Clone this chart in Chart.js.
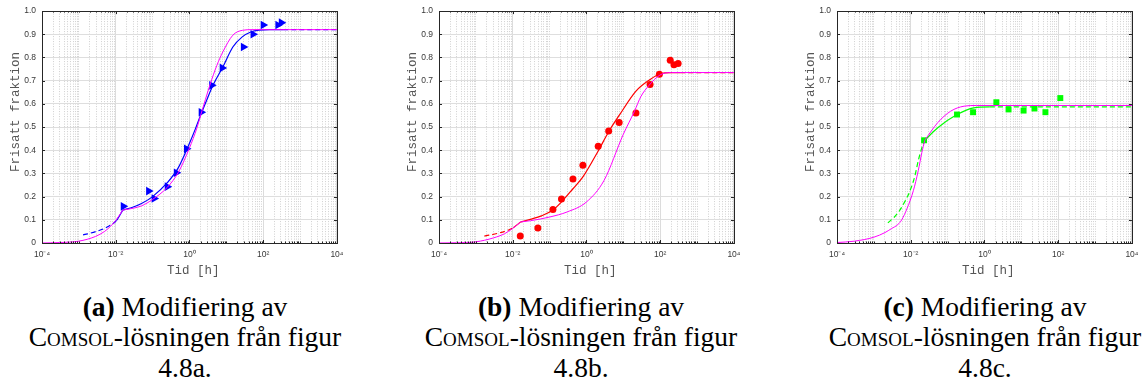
<!DOCTYPE html>
<html>
<head>
<meta charset="utf-8">
<script src="https://cdn.jsdelivr.net/npm/chart.js@4.4.0/dist/chart.umd.min.js"></script>
<style>
  html, body { margin: 0; padding: 0; background: #fff; width: 1144px; height: 387px; overflow: hidden; }
  .panel { position: absolute; top: 0; }
  .cap {
    position: absolute; top: 291.5px; width: 420px; text-align: center;
    font-family: "Liberation Serif", serif; font-size: 27.5px; line-height: 30.5px;
    color: #000; white-space: nowrap;
  }
  .sc { font-variant: small-caps; }
</style>
</head>
<body>
<canvas id="pa" class="panel" width="350" height="285" style="left:0px"></canvas>
<canvas id="pb" class="panel" width="350" height="285" style="left:397px"></canvas>
<canvas id="pc" class="panel" width="350" height="285" style="left:795px"></canvas>
<div class="cap" style="left:-25px"><b>(a)</b> Modifiering av<br><span class="sc">Comsol</span>-lösningen från figur<br>4.8a.</div>
<div class="cap" style="left:371px"><b>(b)</b> Modifiering av<br><span class="sc">Comsol</span>-lösningen från figur<br>4.8b.</div>
<div class="cap" style="left:775px"><b>(c)</b> Modifiering av<br><span class="sc">Comsol</span>-lösningen från figur<br>4.8c.</div>
<script>
// axis ticks
const xTickValues = [1e-4, 1e-2, 1, 1e2, 1e4];
const xTickLabels = ["10⁻⁴", "10⁻²", "10⁰", "10²", "10⁴"];
const yTickValues = [0, 0.1, 0.2, 0.3, 0.4, 0.5, 0.6, 0.7, 0.8, 0.9, 1];

// (a) blue: measured points, fitted curve (rise up to the kink + main part), magenta = COMSOL
const aMeasT = [0.016, 0.078, 0.11, 0.25, 0.44, 0.83, 2.08, 4.0, 7.7, 29, 53, 100, 250, 310];
const aMeasY = [0.158, 0.224, 0.192, 0.243, 0.303, 0.406, 0.564, 0.68, 0.755, 0.845, 0.90, 0.94, 0.94, 0.95];
const aRiseT = [0.0013, 0.003, 0.006, 0.0105, 0.0155];
const aRiseY = [0.035, 0.05, 0.07, 0.098, 0.142];
const aFitT = [0.0155, 0.03, 0.05, 0.1, 0.25, 0.5, 1, 1.43, 2.05, 3, 4.4, 8.1, 15, 27, 46, 78, 150, 350, 1e4];
const aFitY = [0.142, 0.155, 0.17, 0.2, 0.26, 0.325, 0.43, 0.49, 0.555, 0.62, 0.682, 0.76, 0.845, 0.889, 0.91, 0.918, 0.92, 0.92, 0.92];
const aComsolRiseT = [1e-4, 3e-4, 1e-3, 2.8e-3, 5e-3, 7e-3, 0.01, 0.0155];
const aComsolRiseY = [0, 0.002, 0.008, 0.028, 0.05, 0.07, 0.097, 0.142];
const aComsolT = [0.0155, 0.03, 0.05, 0.1, 0.25, 0.5, 1, 1.6, 2.05, 3.6, 5.5, 8.1, 15, 27, 50, 1e4];
const aComsolY = [0.142, 0.15, 0.16, 0.188, 0.24, 0.305, 0.41, 0.497, 0.555, 0.682, 0.765, 0.825, 0.896, 0.917, 0.92, 0.92];

// (b) red
const bMeasT = [0.016, 0.048, 0.123, 0.21, 0.43, 0.8, 2.08, 4.0, 7.7, 22, 53, 95, 187, 236, 306];
const bMeasY = [0.03, 0.065, 0.144, 0.19, 0.276, 0.335, 0.417, 0.483, 0.52, 0.561, 0.684, 0.728, 0.788, 0.769, 0.774];
const bRiseT = [0.0017, 0.004, 0.0075, 0.0103, 0.0165];
const bRiseY = [0.03, 0.042, 0.055, 0.066, 0.091];
const bFitT = [0.0165, 0.03, 0.06, 0.123, 0.21, 0.43, 0.8, 2.08, 4, 7.7, 22, 53, 100, 200, 350, 1e4];
const bFitY = [0.091, 0.102, 0.117, 0.142, 0.177, 0.234, 0.285, 0.397, 0.48, 0.55, 0.655, 0.705, 0.73, 0.735, 0.735, 0.735];
const bComsolRiseT = [1e-4, 3e-4, 1e-3, 3e-3, 6e-3, 0.01, 0.0165];
const bComsolRiseY = [0, 0.001, 0.005, 0.022, 0.04, 0.063, 0.091];
const bComsolT = [0.0165, 0.03, 0.1, 0.3, 1, 3, 10, 20, 30, 50, 100, 200, 1e4];
const bComsolY = [0.091, 0.096, 0.112, 0.134, 0.177, 0.27, 0.469, 0.568, 0.632, 0.68, 0.725, 0.735, 0.735];

// (c) green
const cMeasT = [0.023, 0.18, 0.49, 2.1, 4.5, 11.5, 22.7, 45, 114];
const cMeasY = [0.443, 0.554, 0.564, 0.607, 0.576, 0.571, 0.58, 0.564, 0.625];
const cRiseT = [0.0024, 0.0035, 0.005, 0.007, 0.0096, 0.013, 0.016, 0.02, 0.024];
const cRiseY = [0.087, 0.11, 0.14, 0.18, 0.226, 0.29, 0.355, 0.41, 0.443];
const cFitT = [0.024, 0.054, 0.18, 0.51, 1.4, 1e4];
const cFitY = [0.443, 0.497, 0.554, 0.583, 0.587, 0.587];
const cComsolRiseT = [1e-4, 3e-4, 1e-3, 2e-3, 3e-3, 4.5e-3, 5.7e-3, 8e-3, 0.0118, 0.016, 0.02, 0.024];
const cComsolRiseY = [0.002, 0.008, 0.025, 0.045, 0.062, 0.08, 0.1, 0.15, 0.226, 0.312, 0.39, 0.443];
const cComsolT = [0.024, 0.054, 0.12, 0.28, 0.6, 1e4];
const cComsolY = [0.443, 0.519, 0.568, 0.59, 0.593, 0.593];

// all 1..9 x 10^k positions, used for the log grid
const xGridValues = [];
for (let k = -4; k < 4; k++) {
    for (let m = 1; m < 10; m++) xGridValues.push(m * Math.pow(10, k));
}
xGridValues.push(1e4);

const pts = (t, y) => t.map((v, i) => ({ x: v, y: y[i] }));
const isLabelled = (v) => xTickValues.some((t) => Math.abs(Math.log10(v) - Math.log10(t)) < 1e-6);
const DASH = [5, 3];

// dashBefore: segments ending at or before this time are dashed
// dashAfter: segments starting at or after this time are dashed
function curve(t, y, color, width, dashBefore, dashAfter) {
    return {
        data: pts(t, y),
        showLine: true,
        borderColor: color,
        borderWidth: width,
        pointRadius: 0,
        cubicInterpolationMode: "monotone",
        segment: {
            borderDash: (c) => {
                if (dashBefore && c.p1.parsed.x <= dashBefore * 1.0001) return DASH;
                if (dashAfter && c.p0.parsed.x >= dashAfter * 0.9999) return DASH;
                return undefined;
            },
        },
    };
}

function marks(t, y, color, style, radius, rotation) {
    return {
        data: pts(t, y),
        showLine: false,
        pointStyle: style,
        pointRadius: radius,
        rotation: rotation || 0,
        backgroundColor: color,
        borderColor: color,
        borderWidth: 0,
    };
}

// box around the axes with matlab style inward ticks
const boxPlugin = {
    id: "box",
    afterDatasetsDraw(chart) {
        const { ctx, chartArea: a, scales } = chart;
        ctx.save();
        ctx.strokeStyle = "#262626";
        ctx.lineWidth = 1;
        ctx.beginPath();
        xGridValues.forEach((v) => {
            const x = Math.round(scales.x.getPixelForValue(v)) + 0.5;
            const len = isLabelled(v) ? 3 : 1.5;
            ctx.moveTo(x, a.bottom); ctx.lineTo(x, a.bottom - len);
            ctx.moveTo(x, a.top); ctx.lineTo(x, a.top + len);
        });
        yTickValues.forEach((v) => {
            const y = Math.round(scales.y.getPixelForValue(v)) + 0.5;
            ctx.moveTo(a.left, y); ctx.lineTo(a.left + 3, y);
            ctx.moveTo(a.right, y); ctx.lineTo(a.right - 3, y);
        });
        ctx.stroke();
        ctx.strokeRect(Math.round(a.left) + 0.5, Math.round(a.top) + 0.5,
            Math.round(a.right - a.left), Math.round(a.bottom - a.top));
        ctx.restore();
    },
};

function makePanel(id, datasets) {
    new Chart(document.getElementById(id), {
        type: "scatter",
        data: { datasets: datasets },
        plugins: [boxPlugin],
        options: {
            responsive: false,
            animation: false,
            layout: { padding: { top: 9, right: 7, left: 0, bottom: 0 } },
            plugins: { legend: { display: false }, tooltip: { enabled: false } },
            scales: {
                x: {
                    type: "logarithmic",
                    min: 1e-4,
                    max: 1e4,
                    afterBuildTicks: (s) => { s.ticks = xGridValues.map((v) => ({ value: v })); },
                    afterFit: (s) => { s.height = 42; },
                    ticks: {
                        autoSkip: false,
                        maxRotation: 0,
                        padding: 6.5,
                        color: "#383838",
                        font: { family: "Liberation Sans", size: 8.5 },
                        callback: (v) => {
                            const i = xTickValues.findIndex((t) => Math.abs(Math.log10(v) - Math.log10(t)) < 1e-6);
                            return i >= 0 ? xTickLabels[i] : "";
                        },
                    },
                    grid: {
                        drawTicks: false,
                        color: (c) => (c.tick && isLabelled(c.tick.value) ? "#dcdcdc" : "#d0d0d0"),
                        lineWidth: 1,
                    },
                    border: {
                        display: false,
                        dash: (c) => (c.tick && !isLabelled(c.tick.value) ? [1, 1.5] : []),
                    },
                    title: {
                        display: true,
                        text: " Tid [h]",
                        color: "#555",
                        font: { family: "Liberation Mono", size: 12.5 },
                        padding: { top: 0, bottom: 6.5 },
                    },
                },
                y: {
                    min: 0,
                    max: 1,
                    afterBuildTicks: (s) => { s.ticks = yTickValues.map((v) => ({ value: v })); },
                    afterFit: (s) => { s.width = 42; },
                    ticks: {
                        padding: 6,
                        color: "#383838",
                        font: { family: "Liberation Sans", size: 8.5 },
                    },
                    grid: { drawTicks: false, color: "#dedede", lineWidth: 1 },
                    border: { display: false },
                    title: {
                        display: true,
                        text: "    Frisatt fraktion",
                        color: "#555",
                        font: { family: "Liberation Mono", size: 12.5 },
                        padding: { top: 8.5, bottom: 0 },
                    },
                },
            },
        },
    });
}

makePanel("pa", [
    curve(aComsolRiseT, aComsolRiseY, "#ff00ff", 1),
    curve(aComsolT, aComsolY, "#ff00ff", 1),
    curve(aRiseT, aRiseY, "#0000ff", 1.2, 0.0105),
    curve(aFitT, aFitY, "#0000ff", 1.2, 0, 350),
    marks(aMeasT, aMeasY, "#0000ff", "triangle", 5, 90),
]);

makePanel("pb", [
    curve(bComsolRiseT, bComsolRiseY, "#ff00ff", 1),
    curve(bComsolT, bComsolY, "#ff00ff", 1),
    curve(bRiseT, bRiseY, "#ff0000", 1.2, 0.0103),
    curve(bFitT, bFitY, "#ff0000", 1.2, 0, 350),
    marks(bMeasT, bMeasY, "#ff0000", "circle", 3.5),
]);

makePanel("pc", [
    curve(cComsolRiseT, cComsolRiseY, "#ff00ff", 1),
    curve(cComsolT, cComsolY, "#ff00ff", 1),
    curve(cRiseT, cRiseY, "#00ff00", 1.2, 0.024),
    curve(cFitT, cFitY, "#00ff00", 1.2, 0, 1.4),
    marks(cMeasT, cMeasY, "#00ff00", "rect", 4.2),
]);
</script>
</body>
</html>
